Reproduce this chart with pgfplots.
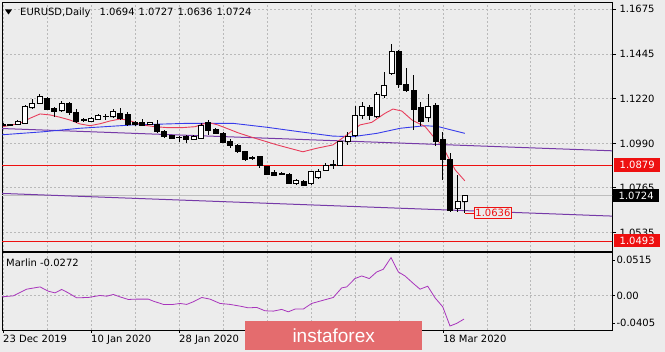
\documentclass[border=0pt]{standalone}
\usepackage{pgfplots}
\pgfplotsset{compat=1.18}
\usepackage{pgfplotstable}
\usepgfplotslibrary{statistics}
\usepackage{fontspec}
\setmainfont{DejaVu Sans}
\newfontfamily\logofont{Liberation Sans}
\definecolor{bg}{RGB}{236,236,236}
\definecolor{gridc}{RGB}{185,185,185}
\definecolor{maRed}{RGB}{232,62,92}
\definecolor{maBlue}{RGB}{55,60,235}
\definecolor{trendP}{RGB}{118,58,168}
\definecolor{lvlRed}{RGB}{238,16,16}
\definecolor{marlinC}{RGB}{168,52,188}
\definecolor{logoRed}{RGB}{228,108,110}
\definecolor{bidG}{RGB}{190,190,190}

\pgfplotstableread{
i O H L C
0 1.1083 1.1095 1.1078 1.1088
1 1.1085 1.1092 1.1080 1.1086
2 1.1088 1.1110 1.1085 1.1101
3 1.1093 1.1185 1.1090 1.1178
4 1.1173 1.1217 1.1170 1.1195
5 1.1195 1.1241 1.1190 1.1232
6 1.1221 1.1225 1.1160 1.1166
7 1.1170 1.1175 1.1127 1.1156
8 1.1157 1.1209 1.1150 1.1195
9 1.1195 1.1200 1.1135 1.1149
10 1.1149 1.1165 1.1095 1.1101
11 1.1110 1.1120 1.1098 1.1111
12 1.1105 1.1125 1.1098 1.1119
13 1.1115 1.1140 1.1110 1.1132
14 1.1129 1.1142 1.1112 1.1131
15 1.1127 1.1165 1.1120 1.1152
16 1.1144 1.1170 1.1112 1.1119
17 1.1139 1.1150 1.1082 1.1088
18 1.1098 1.1105 1.1082 1.1087
19 1.1098 1.1115 1.1078 1.1083
20 1.1088 1.1102 1.1085 1.1098
21 1.1088 1.1108 1.1045 1.1050
22 1.1054 1.1058 1.1018 1.1025
23 1.1030 1.1035 1.1012 1.1017
24 1.1022 1.1030 1.1000 1.1021
25 1.1028 1.1035 1.0992 1.1011
26 1.1011 1.1032 1.1008 1.1028
27 1.1017 1.1095 1.1012 1.1085
28 1.1098 1.1108 1.1035 1.1059
29 1.1064 1.1070 1.1038 1.1042
30 1.1042 1.1048 1.0992 1.0996
31 1.0999 1.1015 1.0967 1.0979
32 1.0983 1.0988 1.0942 1.0948
33 1.0948 1.0952 1.0903 1.0908
34 1.0918 1.0925 1.0905 1.0917
35 1.0923 1.0928 1.0867 1.0877
36 1.0872 1.0878 1.0830 1.0835
37 1.0843 1.0855 1.0828 1.0830
38 1.0836 1.0845 1.0828 1.0835
39 1.0835 1.0840 1.0782 1.0787
40 1.0787 1.0808 1.0780 1.0804
41 1.0799 1.0805 1.0775 1.0779
42 1.0787 1.0852 1.0778 1.0846
43 1.0816 1.0862 1.0810 1.0850
44 1.0855 1.0892 1.0852 1.0880
45 1.0880 1.0905 1.0860 1.0882
46 1.0880 1.1003 1.0875 1.0999
47 1.0999 1.1050 1.0985 1.1025
48 1.1033 1.1183 1.1025 1.1135
49 1.1135 1.1200 1.1115 1.1178
50 1.1173 1.1185 1.1110 1.1135
51 1.1127 1.1255 1.1120 1.1241
52 1.1236 1.1356 1.1220 1.1285
53 1.1348 1.1496 1.1340 1.1459
54 1.1459 1.1465 1.1275 1.1292
55 1.1292 1.1374 1.1255 1.1263
56 1.1263 1.1340 1.1059 1.1166
57 1.1173 1.1203 1.1080 1.1101
58 1.1122 1.1241 1.1100 1.1178
59 1.1183 1.1195 1.0975 1.1003
60 1.1013 1.1050 1.0804 1.0911
61 1.0911 1.0940 1.0640 1.0651
62 1.0660 1.0830 1.0642 1.0694
63 1.0694 1.0727 1.0636 1.0724
}\ohlc
\pgfplotstablecreatecol[create col/expr={min(\thisrow{O},\thisrow{C})}]{lo}\ohlc
\pgfplotstablecreatecol[create col/expr={max(\thisrow{O},\thisrow{C})}]{hi}\ohlc

\pgfplotstableread{
x y
0 1.1076
2.32 1.1093
3.68 1.1119
5.05 1.1141
6.41 1.1136
7.78 1.1124
9.14 1.1110
10.5 1.1090
11.87 1.1081
13.23 1.1091
14.6 1.1105
15.96 1.1115
17.05 1.1110
18.96 1.1085
20.74 1.1076
22.5 1.1071
24.4 1.1071
26.2 1.1076
27.97 1.1098
29.3 1.1085
30.7 1.1065
32.06 1.1045
33.7 1.1025
37.4 1.0983
40.9 1.0948
42.8 1.0966
45.0 1.0983
46.9 1.1034
48.7 1.1085
50.3 1.1098
52.1 1.1144
53.2 1.1166
54.4 1.1156
55.8 1.1110
57.6 1.1076
58.9 1.1017
59.9 1.0983
60.7 1.0923
61.7 1.0855
63 1.0800
}\mared

\pgfplotstableread{
x y
-0.41 1.1034
5.46 1.1050
10.5 1.1068
17.7 1.1085
25.1 1.1093
31.4 1.1093
36.0 1.1073
40.5 1.1050
45.0 1.1028
47.7 1.1025
51.0 1.1042
54.2 1.1068
57.6 1.1081
59.3 1.1077
63 1.1042
}\mablue

\pgfplotstableread{
x y
-0.18 -0.0019
1.41 -0.0004
3.23 0.0093
5.05 0.0126
6.18 0.0064
7.09 0.0039
8.01 0.0089
8.91 0.0039
10.05 -0.0033
11.64 -0.0028
13.23 0.0001
14.15 -0.0009
15.05 0.0016
15.96 -0.0019
17.09 -0.0057
18.24 -0.0052
19.82 -0.0052
20.5 -0.0081
21.87 -0.0129
23.23 -0.0129
24.15 -0.0115
25.06 -0.0129
25.96 -0.0091
27.11 -0.0028
28.24 -0.0052
29.6 -0.0115
30.97 -0.0129
32.33 -0.0154
33.47 -0.0179
34.61 -0.0173
35.74 -0.0222
36.88 -0.0227
38.02 -0.0202
38.92 -0.0237
39.84 -0.0197
40.97 -0.0197
42.11 -0.0115
43.25 -0.0081
45.06 -0.0028
46.21 0.0112
46.89 0.0126
48.02 0.0248
48.94 0.0286
49.97 0.0248
50.98 0.0344
51.88 0.0383
52.93 0.0553
53.93 0.0344
54.84 0.0286
55.98 0.0176
56.89 0.0093
57.94 0.0136
58.94 -0.0033
59.99 -0.0164
60.98 -0.0444
61.9 -0.0405
62.89 -0.0343
}\marlin

\begin{document}
\begin{tikzpicture}[font=\fontsize{10}{12}\selectfont]
\path[use as bounding box, fill=bg] (0,0) rectangle (665pt,352pt);

\begin{axis}[
  scale only axis, width=610pt, height=249pt,
  at={(2pt,101pt)}, anchor=south west,
  xmin=-0.136, xmax=83.08, ymin=1.0442, ymax=1.1712,
  axis line style={black, line width=0.8pt},
  xtick={0,6,...,78}, xticklabels={}, xmajorticks=false, xmajorgrids,
  ytick={1.0535,1.0765,1.0990,1.1220,1.1445,1.1675},
  yticklabels={1.0535,1.0765,1.0990,1.1220,1.1445,1.1675},
  scaled y ticks=false, scaled x ticks=false,
  ymajorgrids, ytick pos=right, yticklabel pos=right, ytick align=outside,
  major tick length=4pt,
  tick style={black, line width=0.6pt},
  tick label style={font=\fontsize{10}{12}\selectfont},
  grid style={gridc, dash pattern=on 2pt off 2pt, line width=0.6pt},
  clip mode=individual,
  boxplot/draw direction=y,
  boxplot/box extend=0.68,
  boxplot/whisker extend=0,
]
\addplot[bidG, line width=0.7pt] coordinates {(-1,1.0724) (84,1.0724)};
\addplot[lvlRed, line width=0.8pt] coordinates {(-1,1.0879) (84,1.0879)};
\addplot[lvlRed, line width=0.8pt] coordinates {(-1,1.0493) (84,1.0493)};
\addplot[trendP, line width=1pt] coordinates {(-0.41,1.1067) (83.1,1.0953)};
\addplot[trendP, line width=1pt] coordinates {(-0.41,1.0736) (83.1,1.0620)};
\addplot[maBlue, line width=0.9pt] table[x=x,y=y] {\mablue};
\addplot[maRed, line width=0.9pt] table[x=x,y=y] {\mared};
\pgfplotsinvokeforeach{0,...,63}{
  \pgfplotstablegetelem{#1}{L}\of\ohlc \let\vL\pgfplotsretval
  \pgfplotstablegetelem{#1}{H}\of\ohlc \let\vH\pgfplotsretval
  \pgfplotstablegetelem{#1}{O}\of\ohlc \let\vO\pgfplotsretval
  \pgfplotstablegetelem{#1}{lo}\of\ohlc \let\vlo\pgfplotsretval
  \pgfplotstablegetelem{#1}{hi}\of\ohlc \let\vhi\pgfplotsretval
  \edef\candleA{\noexpand\addplot[black, line width=0.7pt,
    boxplot/every box/.style={draw=black, fill=white},
    boxplot prepared={draw position=#1, lower whisker=\vL, upper whisker=\vH,
      lower quartile=\vlo, upper quartile=\vhi, median=\vlo}] coordinates {};}
  \candleA
  \edef\candleB{\noexpand\addplot[black, line width=0.7pt,
    boxplot/every box/.style={draw=black, fill=black},
    boxplot prepared={draw position=#1, lower whisker=\vlo, upper whisker=\vO,
      lower quartile=\vlo, upper quartile=\vO, median=\vO}] coordinates {};}
  \candleB
}
\addplot[lvlRed, line width=0.8pt] coordinates {(63,1.0636) (64.26,1.0636)};
\node[draw=lvlRed, text=lvlRed, fill=bg, inner xsep=1pt, inner ysep=1.5pt, anchor=west, line width=0.7pt]
  at (axis cs:64.26,1.0636) {1.0636};
\node[fill=lvlRed, text=white, minimum width=46pt, minimum height=14pt, inner sep=0pt, anchor=west]
  at (axis cs:83.08,1.0879) [xshift=2pt] {1.0879};
\node[fill=black, text=white, minimum width=46pt, minimum height=13pt, inner sep=0pt, anchor=west]
  at (axis cs:83.08,1.0724) [xshift=1pt] {1.0724};
\node[fill=lvlRed, text=white, minimum width=46pt, minimum height=13pt, inner sep=0pt, anchor=west]
  at (axis cs:83.08,1.0493) [xshift=2pt] {1.0493};
\end{axis}

\begin{axis}[
  scale only axis, width=610pt, height=78pt,
  at={(2pt,22pt)}, anchor=south west,
  xmin=-0.136, xmax=83.08, ymin=-0.0502, ymax=0.0635,
  axis line style={black, line width=0.8pt},
  xtick={0,12,...,60},
  xticklabels={23 Dec 2019,10 Jan 2020,28 Jan 2020,,,18 Mar 2020},
  minor xtick={6,18,30,42,54,66,72,78},
  xmajorgrids, xminorgrids,
  xtick pos=bottom, xtick align=outside,
  major tick length=3pt, minor tick length=0pt,
  xticklabel style={anchor=north west, xshift=-3.3pt, yshift=1pt},
  ytick={-0.0405,0.0515}, yticklabels={-0.0405,0.0515},
  extra y ticks={0}, extra y tick labels={0.00},
  extra y tick style={grid=major},
  scaled y ticks=false, scaled x ticks=false,
  ytick pos=right, yticklabel pos=right, ytick align=outside,
  yticklabel style={xshift=-2pt},
  tick style={black, line width=0.6pt},
  tick label style={font=\fontsize{10}{12}\selectfont},
  grid style={gridc, dash pattern=on 2pt off 2pt, line width=0.6pt},
]
\addplot[marlinC, line width=0.8pt] table[x=x,y=y] {\marlin};
\end{axis}

% title and labels
\fill (5pt,342.5pt) -- (12pt,342.5pt) -- (8.5pt,337.5pt) -- cycle;
\node[anchor=base west, inner sep=0pt] at (20pt,336pt)
  {EURUSD,Daily\hspace{9pt}1.0694\hspace{4pt}1.0727\hspace{4pt}1.0636\hspace{4pt}1.0724};
\node[anchor=base west, inner sep=0pt] at (6pt,85.3pt) {Marlin -0.0272};
\node[fill=logoRed, minimum width=177pt, minimum height=29pt, inner sep=0pt, anchor=north west,
  text=white, font=\fontsize{19}{19}\selectfont\logofont] at (245pt,31pt) {instaforex};
\end{tikzpicture}
\end{document}
